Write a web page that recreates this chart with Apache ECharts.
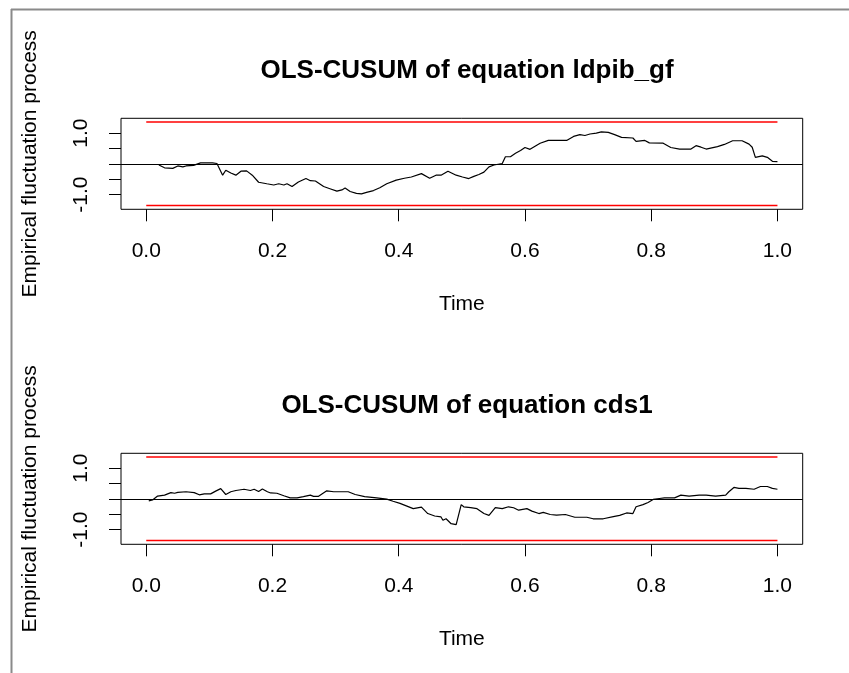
<!DOCTYPE html>
<html>
<head>
<meta charset="utf-8">
<script src="https://cdn.jsdelivr.net/npm/echarts@6/dist/echarts.min.js"></script>
<style>
html,body{margin:0;padding:0;background:#fff;}
#c{width:849px;height:673px;}
</style>
</head>
<body>
<div id="c"></div>
<script>
// ---- data ----
var titles = ['OLS-CUSUM of equation ldpib_gf', 'OLS-CUSUM of equation cds1'];
var yAxisTitle = 'Empirical fluctuation process';
var xAxisTitle = 'Time';
var xTicks = [0, 0.2, 0.4, 0.6, 0.8, 1.0];
var yTicks = [-1, -0.5, 0, 0.5, 1];
var yTickLabels = [-1, 1];
var boundary = 1.358;
var boundTime = [0, 1];

var topTime = [0.020,0.029,0.042,0.050,0.058,0.063,0.075,0.086,0.105,0.112,0.121,0.126,0.134,0.142,0.150,0.159,0.168,0.178,0.191,0.202,0.210,0.218,0.223,0.231,0.241,0.253,0.260,0.268,0.281,0.291,0.302,0.310,0.315,0.323,0.333,0.341,0.349,0.360,0.370,0.381,0.396,0.409,0.420,0.436,0.449,0.459,0.467,0.478,0.491,0.501,0.511,0.519,0.527,0.535,0.543,0.551,0.564,0.569,0.577,0.585,0.593,0.600,0.608,0.611,0.624,0.637,0.666,0.677,0.687,0.695,0.703,0.713,0.721,0.732,0.742,0.753,0.771,0.776,0.790,0.797,0.819,0.831,0.845,0.863,0.871,0.879,0.887,0.905,0.916,0.929,0.944,0.955,0.960,0.965,0.976,0.984,0.992,1.000];
var topVal = [-0.04,-0.13,-0.15,-0.07,-0.10,-0.07,-0.05,0.03,0.03,0.01,-0.37,-0.21,-0.30,-0.37,-0.24,-0.23,-0.37,-0.60,-0.65,-0.69,-0.65,-0.69,-0.65,-0.74,-0.59,-0.48,-0.55,-0.56,-0.74,-0.81,-0.89,-0.85,-0.79,-0.90,-0.96,-0.98,-0.93,-0.87,-0.78,-0.65,-0.53,-0.47,-0.43,-0.32,-0.47,-0.37,-0.37,-0.24,-0.37,-0.43,-0.48,-0.41,-0.35,-0.27,-0.10,-0.04,0.01,0.23,0.23,0.34,0.43,0.53,0.47,0.43,0.67,0.76,0.76,0.89,0.95,0.92,0.97,1.00,1.04,1.02,0.95,0.86,0.84,0.73,0.76,0.68,0.67,0.53,0.48,0.48,0.59,0.54,0.48,0.56,0.63,0.75,0.75,0.64,0.54,0.21,0.26,0.21,0.08,0.07];

var botTime = [0.004,0.010,0.018,0.029,0.039,0.045,0.050,0.063,0.076,0.084,0.092,0.102,0.110,0.118,0.126,0.134,0.142,0.155,0.165,0.171,0.178,0.184,0.192,0.197,0.207,0.218,0.228,0.239,0.249,0.260,0.265,0.273,0.286,0.297,0.320,0.331,0.346,0.365,0.381,0.391,0.402,0.412,0.423,0.436,0.446,0.457,0.467,0.470,0.475,0.483,0.491,0.499,0.503,0.514,0.524,0.535,0.543,0.553,0.564,0.574,0.582,0.590,0.603,0.611,0.622,0.629,0.640,0.650,0.664,0.679,0.698,0.708,0.724,0.740,0.750,0.761,0.771,0.776,0.787,0.795,0.803,0.813,0.821,0.837,0.847,0.860,0.876,0.887,0.902,0.918,0.923,0.931,0.939,0.950,0.963,0.973,0.984,0.992,1.000];
var botVal = [-0.07,-0.04,0.09,0.12,0.20,0.18,0.21,0.23,0.20,0.13,0.16,0.16,0.25,0.33,0.14,0.23,0.27,0.31,0.27,0.31,0.24,0.32,0.23,0.19,0.18,0.10,0.03,0.03,0.07,0.12,0.08,0.08,0.26,0.23,0.23,0.14,0.07,0.03,-0.01,-0.08,-0.15,-0.23,-0.32,-0.27,-0.48,-0.56,-0.59,-0.70,-0.65,-0.81,-0.84,-0.19,-0.26,-0.29,-0.32,-0.48,-0.54,-0.29,-0.32,-0.26,-0.29,-0.37,-0.32,-0.40,-0.48,-0.44,-0.51,-0.53,-0.51,-0.60,-0.60,-0.65,-0.65,-0.58,-0.54,-0.46,-0.48,-0.26,-0.19,-0.12,-0.02,0.01,0.03,0.03,0.12,0.09,0.12,0.12,0.09,0.12,0.23,0.37,0.34,0.34,0.31,0.40,0.40,0.34,0.31];

// ---- chart ----
var FONT = "'Liberation Sans', Arial, Helvetica, sans-serif";
function pairs(xs, ys){ return xs.map(function(x,i){ return [x, ys[i]]; }); }
function constPairs(xs, v){ return xs.map(function(x){ return [x, v]; }); }

var gridTops = [118.3, 453.3];
var grids = [], xAxes = [], yAxes = [], series = [], titleArr = [];
var lines = [[topTime, topVal], [botTime, botVal]];

for (var k = 0; k < 2; k++) {
  grids.push({left: 121, top: gridTops[k], width: 681.7, height: 91, show: true,
    borderColor: '#000', borderWidth: 1, backgroundColor: 'transparent'});
  titleArr.push({text: titles[k], left: 462, top: gridTops[k] - 65.3, textAlign: 'center',
    textStyle: {fontFamily: FONT, fontSize: 26, fontWeight: 'bold', color: '#000'}});
  xAxes.push({type: 'value', gridIndex: k, min: -0.04, max: 1.04, position: 'bottom',
    name: xAxisTitle, nameLocation: 'middle', nameGap: 84,
    nameTextStyle: {fontFamily: FONT, fontSize: 21, color: '#000'},
    axisLine: {show: false, onZero: false},
    axisTick: {show: true, inside: false, length: 12, customValues: xTicks, lineStyle: {color: '#000', width: 1}},
    axisLabel: {customValues: xTicks, margin: 31, fontFamily: FONT, fontSize: 21, color: '#000',
      formatter: function(v){ return v.toFixed(1); }},
    splitLine: {show: false}});
  yAxes.push({type: 'value', gridIndex: k, min: -1.48, max: 1.48, position: 'left',
    name: yAxisTitle, nameLocation: 'middle', nameGap: 80, nameRotate: 90,
    nameTextStyle: {fontFamily: FONT, fontSize: 21, color: '#000'},
    axisLine: {show: false, onZero: false},
    axisTick: {show: true, inside: false, length: 12, customValues: yTicks, lineStyle: {color: '#000', width: 1}},
    axisLabel: {customValues: yTickLabels, rotate: 90, margin: 29, fontFamily: FONT, fontSize: 21, color: '#000',
      formatter: function(v){ return v.toFixed(1); }},
    splitLine: {show: false}});
  series.push({type: 'line', xAxisIndex: k, yAxisIndex: k, data: constPairs(boundTime, boundary),
    symbol: 'none', lineStyle: {color: '#ff0000', width: 1.6}, silent: true, animation: false});
  series.push({type: 'line', xAxisIndex: k, yAxisIndex: k, data: constPairs(boundTime, -boundary),
    symbol: 'none', lineStyle: {color: '#ff0000', width: 1.6}, silent: true, animation: false});
  series.push({type: 'line', xAxisIndex: k, yAxisIndex: k, data: pairs(lines[k][0], lines[k][1]),
    symbol: 'none', lineStyle: {color: '#000', width: 1.2}, silent: true, animation: false,
    markLine: {silent: true, symbol: 'none', label: {show: false}, animation: false,
      lineStyle: {color: '#000', width: 1.2, type: 'solid'}, data: [{yAxis: 0}]}});
}

var chart = echarts.init(document.getElementById('c'), null, {renderer: 'canvas'});
chart.setOption({
  backgroundColor: '#fff',
  animation: false,
  title: titleArr,
  grid: grids,
  xAxis: xAxes,
  yAxis: yAxes,
  series: series,
  graphic: [
    {type: 'line', shape: {x1: 11, y1: 9.5, x2: 849, y2: 9.5}, style: {stroke: '#8a8a8a', lineWidth: 2}},
    {type: 'line', shape: {x1: 11.5, y1: 9, x2: 11.5, y2: 673}, style: {stroke: '#8a8a8a', lineWidth: 2}}
  ]
});
</script>
</body>
</html>
